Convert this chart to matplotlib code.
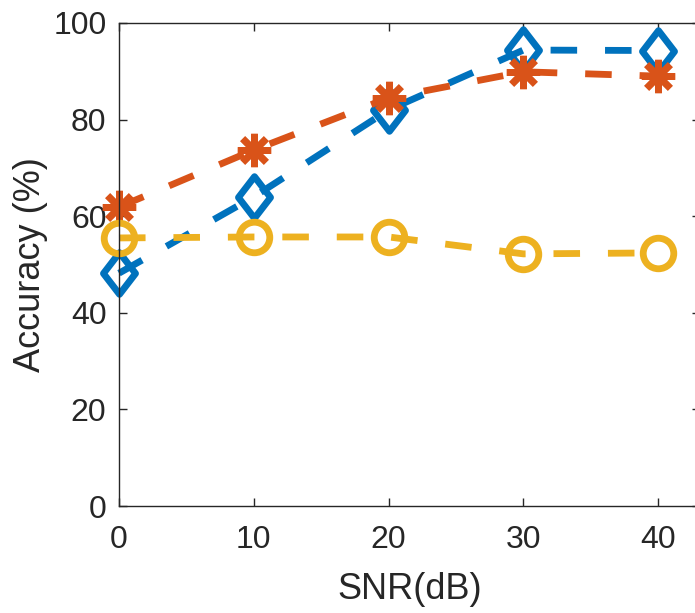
import matplotlib.pyplot as plt
from matplotlib.path import Path

# SNR levels (dB)
snr = [0, 10, 20, 30, 40]
# Accuracy (%) for each method
acc_blue = [48.2, 64.0, 82.0, 94.4, 94.3]
acc_orange = [61.9, 73.7, 84.5, 89.9, 89.0]
acc_yellow = [55.5, 55.7, 55.7, 52.2, 52.4]

x_ticks = [0, 10, 20, 30, 40]
y_ticks = [0, 20, 40, 60, 80, 100]

BLUE = "#0072BD"
ORANGE = "#D95319"
YELLOW = "#EDB120"
AXIS = "#262626"

# MATLAB style diamond (taller than wide)
diamond = Path([(0, 1), (0.77, 0), (0, -1), (-0.77, 0), (0, 1)],
               [Path.MOVETO, Path.LINETO, Path.LINETO, Path.LINETO, Path.CLOSEPOLY])

plt.rcParams['font.family'] = ['Liberation Sans', 'DejaVu Sans']

fig = plt.figure(figsize=(6.95, 6.13), dpi=100)
ax = fig.add_axes([119 / 695, 107 / 613, (700 - 119) / 695, (506 - 23) / 613])

lw = 4.9
dash = (3.9, 4.1)
ax.plot(snr, acc_blue, color=BLUE, lw=lw, dashes=dash, marker=diamond,
        markersize=30, markerfacecolor='none', markeredgewidth=lw, clip_on=False)
ax.plot(snr, acc_orange, color=ORANGE, lw=lw, dashes=dash, marker=(8, 2, 0),
        markersize=24, markeredgewidth=lw, clip_on=False)
ax.plot(snr, acc_yellow, color=YELLOW, lw=lw, dashes=dash, marker='o',
        markersize=22, markerfacecolor='none', markeredgewidth=lw, clip_on=False)

ax.set_xlim(0, 43.1)
ax.set_ylim(0, 100)
ax.set_xticks(x_ticks)
ax.set_yticks(y_ticks)
ax.tick_params(direction='in', length=6, width=1, colors=AXIS, labelsize=23,
               top=True, right=True, pad=9)
ax.tick_params(axis='x', pad=14)
for s in ax.spines.values():
    s.set_color(AXIS)
    s.set_linewidth(1)

ax.set_xlabel('SNR(dB)', fontsize=26, color=AXIS, labelpad=12)
ax.set_ylabel('Accuracy (%)', fontsize=26, color=AXIS, labelpad=4)

fig.savefig('out.png', dpi=100)
